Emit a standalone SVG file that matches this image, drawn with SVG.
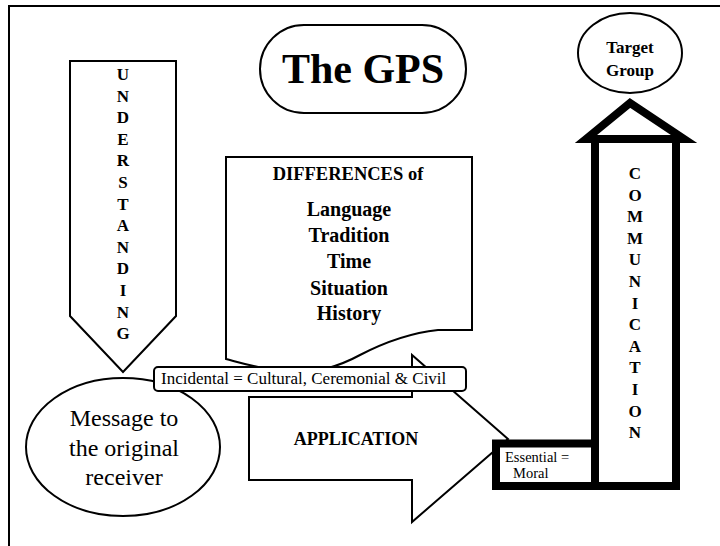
<svg xmlns="http://www.w3.org/2000/svg" width="720" height="546" viewBox="0 0 720 546">
<style>
.o{fill:#fff;stroke:#000;stroke-width:2}
.k{fill:#fff;stroke:#000;stroke-width:8;stroke-linejoin:miter}
text{font-family:'Liberation Serif','Times New Roman',serif;fill:#000}
.b{font-weight:bold;text-anchor:middle}
.v{font-weight:bold;text-anchor:middle;font-size:17px}
</style>
<rect width="720" height="546" fill="#fff"/>
<path d="M9,546 V6 H720" fill="none" stroke="#000" stroke-width="2"/>

<g id="title">
<rect class="o" x="260" y="25" width="206" height="88" rx="44"/>
<text class="b" x="363" y="83" font-size="42">The GPS</text>
</g>

<g id="understanding">
<polygon class="o" points="70,61 176,61 176,316 123,372 70,316"/>
<text class="v" x="123" y="80">U</text>
<text class="v" x="123" y="101.6">N</text>
<text class="v" x="123" y="123.2">D</text>
<text class="v" x="123" y="144.8">E</text>
<text class="v" x="123" y="166.4">R</text>
<text class="v" x="123" y="188">S</text>
<text class="v" x="123" y="209.6">T</text>
<text class="v" x="123" y="231.2">A</text>
<text class="v" x="123" y="252.8">N</text>
<text class="v" x="123" y="274.4">D</text>
<text class="v" x="123" y="296">I</text>
<text class="v" x="123" y="317.6">N</text>
<text class="v" x="123" y="339.2">G</text>
</g>

<g id="differences">
<path class="o" d="M226,157 H472 V330 H438 C410,333 385,342 360,355 C340,366 310,376 285,372 C262,369 245,364 226,359 Z"/>
<text class="b" x="348" y="180" font-size="18.5">DIFFERENCES of</text>
<text class="b" x="349" y="216" font-size="20">Language</text>
<text class="b" x="349" y="242" font-size="20">Tradition</text>
<text class="b" x="349" y="268" font-size="20">Time</text>
<text class="b" x="349" y="295" font-size="20">Situation</text>
<text class="b" x="349" y="320" font-size="20">History</text>
</g>

<g id="message">
<ellipse class="o" cx="123" cy="447" rx="97" ry="69"/>
<text x="124" y="426" font-size="24" text-anchor="middle">Message to</text>
<text x="124" y="456" font-size="24" text-anchor="middle">the original</text>
<text x="124" y="485" font-size="24" text-anchor="middle">receiver</text>
</g>

<g id="application">
<polygon class="o" points="249,397 412,397 412,355 508,439 412,522 412,480 249,480"/>
<text class="b" x="356" y="445" font-size="18">APPLICATION</text>
</g>

<g id="essential">
<rect class="k" x="496" y="443.5" width="99" height="42.5" stroke-width="7"/>
<text x="505" y="462" font-size="14.5">Essential =</text>
<text x="513" y="478" font-size="14.5">Moral</text>
</g>

<g id="communication">
<rect class="k" x="595" y="139" width="81" height="347"/>
<polygon class="k" points="586,139 630,103 684,139"/>
<text class="v" x="635" y="179">C</text>
<text class="v" x="635" y="200.6">O</text>
<text class="v" x="635" y="222.2">M</text>
<text class="v" x="635" y="243.8">M</text>
<text class="v" x="635" y="265.4">U</text>
<text class="v" x="635" y="287">N</text>
<text class="v" x="635" y="308.6">I</text>
<text class="v" x="635" y="330.2">C</text>
<text class="v" x="635" y="351.8">A</text>
<text class="v" x="635" y="373.4">T</text>
<text class="v" x="635" y="395">I</text>
<text class="v" x="635" y="416.6">O</text>
<text class="v" x="635" y="438.2">N</text>
</g>

<g id="target">
<ellipse class="o" cx="630" cy="53" rx="52" ry="40"/>
<text class="b" x="630" y="53" font-size="17">Target</text>
<text class="b" x="630" y="76" font-size="17">Group</text>
</g>

<g id="incidental">
<rect class="o" x="154" y="367" width="312" height="24" rx="4"/>
<text x="161" y="384" font-size="17">Incidental = Cultural, Ceremonial &amp; Civil</text>
</g>
</svg>
